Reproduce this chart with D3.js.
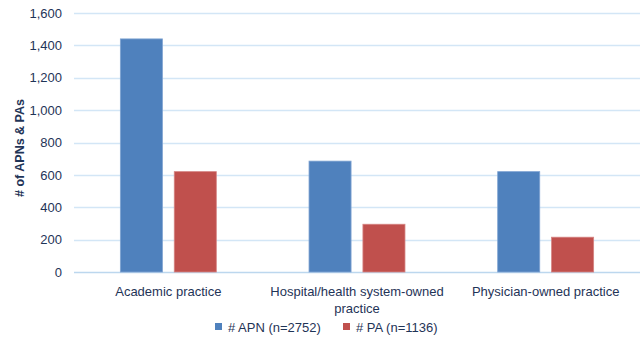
<!DOCTYPE html>
<html><head><meta charset="utf-8">
<script src="https://cdn.jsdelivr.net/npm/d3@7"></script>
<style>body{margin:0;background:#fff;} text{font-family:"Liberation Sans",Arial,sans-serif;}</style>
</head><body>
<svg id="chart" width="644" height="340"></svg>
<script>
const categories = [["Academic practice"], ["Hospital/health system-owned", "practice"], ["Physician-owned practice"]];
const seriesNames = ["# APN (n=2752)", "# PA (n=1136)"];
const apnValues = [1440, 685, 620];
const paValues = [620, 295, 215];
const yTicks = [0, 200, 400, 600, 800, 1000, 1200, 1400, 1600];
const colors = ["#4F81BD", "#C0504D"];
const strokeColors = ["#7FA3D2", "#D58482"];

const svg = d3.select("#chart");
const margin = {left: 74, right: 4, top: 13, bottom: 68};
const W = 644, H = 340;
const textColor = "#1F3457";

const x = d3.scaleBand().domain(d3.range(categories.length)).range([margin.left, W - margin.right]).padding(0);
const xi = d3.scaleBand().domain([0, 1]).range([0, x.bandwidth()]).paddingInner(0.22).paddingOuter(0.86);
const y = d3.scaleLinear().domain([0, 1600]).range([272, 13]);

// gridlines
svg.append("g").selectAll("line").data(yTicks).join("line")
  .attr("x1", margin.left).attr("x2", W - margin.right)
  .attr("y1", d => Math.round(y(d)) + 0.5).attr("y2", d => Math.round(y(d)) + 0.5)
  .attr("stroke", d => d === 0 ? "#BCD7EE" : "#D3E6F6").attr("stroke-width", 1.3);

// y axis labels
const yAxis = d3.axisLeft(y).tickValues(yTicks).tickFormat(d3.format(",")).tickSize(0).tickPadding(12);
const ya = svg.append("g").attr("transform", `translate(${margin.left},0)`).call(yAxis);
ya.select(".domain").remove();
ya.selectAll("text").attr("font-size", 13).attr("fill", textColor).attr("font-family", "Liberation Sans, Arial, sans-serif");

// bars
const series = [apnValues, paValues];
const groups = svg.append("g");
series.forEach((vals, si) => {
  groups.append("g").selectAll("rect").data(vals).join("rect")
    .attr("x", (d, i) => x(i) + xi(si))
    .attr("width", xi.bandwidth())
    .attr("y", d => y(d))
    .attr("height", d => y(0) - y(d))
    .attr("fill", colors[si])
    .attr("stroke", strokeColors[si]).attr("stroke-width", 0.8);
});

// x labels
const xl = svg.append("g");
categories.forEach((lines, i) => {
  const t = xl.append("text").attr("text-anchor", "middle").attr("font-size", 13).attr("fill", textColor)
    .attr("x", x(i) + x.bandwidth() / 2).attr("y", 296);
  lines.forEach((ln, k) => t.append("tspan").attr("x", x(i) + x.bandwidth() / 2).attr("dy", k === 0 ? 0 : 17).text(ln));
});

// y axis title
svg.append("text").attr("transform", "translate(24,148) rotate(-90)")
  .attr("text-anchor", "middle").attr("font-size", 12.5).attr("font-weight", "bold").attr("fill", textColor)
  .text("# of APNs & PAs");

// legend
const legendX = [215, 343];
const lg = svg.append("g");
seriesNames.forEach((name, i) => {
  lg.append("rect").attr("x", legendX[i]).attr("y", 323).attr("width", 7).attr("height", 7).attr("fill", colors[i]);
  lg.append("text").attr("x", legendX[i] + 13).attr("y", 332).attr("font-size", 13).attr("fill", textColor).text(name);
});
</script>
</body></html>
